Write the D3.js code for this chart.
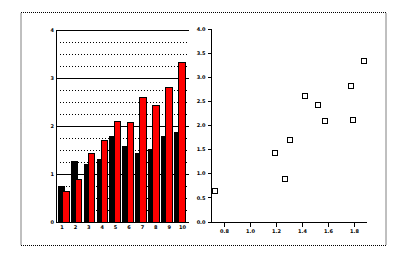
<!DOCTYPE html>
<html>
<head>
<meta charset="utf-8">
<script src="https://cdn.jsdelivr.net/npm/d3@7"></script>
<style>
  body { margin: 0; background: #fff; }
  svg text { font-family: "DejaVu Sans", sans-serif; font-weight: bold; font-size: 5px; fill: #000; }
</style>
</head>
<body>
<svg width="407" height="260"></svg>
<script>
// data
var categories = ["1", "2", "3", "4", "5", "6", "7", "8", "9", "10"];
var blackVals = [0.73, 1.27, 1.19, 1.31, 1.79, 1.58, 1.42, 1.52, 1.78, 1.875];
var redVals = [0.64, 0.89, 1.43, 1.70, 2.10, 2.08, 2.60, 2.42, 2.81, 3.33];
var barTicks = [0, 1, 2, 3, 4];
var scatterYTicks = [0, 0.5, 1, 1.5, 2, 2.5, 3, 3.5, 4];
var scatterXTicks = [0.8, 1.0, 1.2, 1.4, 1.6, 1.8];

var svg = d3.select("svg");

// dotted frame round everything
svg.append("rect")
  .attr("x", 21).attr("y", 12.5)
  .attr("width", 365).attr("height", 233)
  .attr("fill", "none").attr("stroke", "#000")
  .attr("stroke-dasharray", "1,1");

// ---- left: bar chart ----
var yBar = d3.scaleLinear().domain([0, 4]).range([222, 30]);
var xBar = d3.scaleBand().domain(categories).range([56.5, 185.5]);
var gridX0 = 56.5, gridX1 = 189;

var quarters = d3.range(0, 4.01, 0.25).filter(v => v % 1 != 0);
var left = svg.append("g").attr("shape-rendering", "crispEdges");

left.selectAll(".dot")
  .data(quarters)
  .enter().append("line")
  .attr("x1", gridX0 + 3).attr("x2", gridX1)
  .attr("y1", d => Math.round(yBar(d)) + 0.5).attr("y2", d => Math.round(yBar(d)) + 0.5)
  .attr("stroke", "#000").attr("stroke-dasharray", "1,2");

left.selectAll(".solid")
  .data(barTicks)
  .enter().append("line")
  .attr("x1", gridX0).attr("x2", gridX1)
  .attr("y1", d => Math.round(yBar(d)) + 0.5).attr("y2", d => Math.round(yBar(d)) + 0.5)
  .attr("stroke", "#000");

left.append("line")
  .attr("x1", gridX0).attr("x2", gridX0)
  .attr("y1", yBar(4)).attr("y2", yBar(0) + 1)
  .attr("stroke", "#000");

left.selectAll(".ylab")
  .data(barTicks)
  .enter().append("text")
  .attr("x", 54).attr("y", d => yBar(d) + 2)
  .attr("text-anchor", "end")
  .text(d => d);

left.selectAll(".bk")
  .data(blackVals)
  .enter().append("rect")
  .attr("x", (d, i) => xBar(categories[i]) + 1.8)
  .attr("y", d => yBar(d))
  .attr("width", 6.5)
  .attr("height", d => yBar(0) - yBar(d))
  .attr("fill", "#000").attr("stroke", "#000");

left.selectAll(".rd")
  .data(redVals)
  .enter().append("rect")
  .attr("x", (d, i) => xBar(categories[i]) + 6)
  .attr("y", d => yBar(d))
  .attr("width", 6.5)
  .attr("height", d => yBar(0) - yBar(d))
  .attr("fill", "#ff0000").attr("stroke", "#000");

left.selectAll(".xlab")
  .data(categories)
  .enter().append("text")
  .attr("x", (d, i) => 62 + i * 13.4)
  .attr("y", 228.5)
  .attr("text-anchor", "middle")
  .text(d => d);

// ---- right: scatter of black vs red ----
var xSc = d3.scaleLinear().domain([0.7, 1.9]).range([211, 367]);
var ySc = d3.scaleLinear().domain([0, 4]).range([221.5, 28.7]);

var right = svg.append("g").attr("shape-rendering", "crispEdges");

right.append("g")
  .attr("transform", "translate(211.5,0)")
  .call(d3.axisLeft(ySc).tickValues(scatterYTicks).tickSize(4).tickPadding(2).tickFormat(d3.format(".1f")))
  .call(g => g.select(".domain").attr("d", "M0," + ySc(4) + "V" + ySc(0)))
  .selectAll("text").style("font-size", "5px").style("font-family", "DejaVu Sans").style("font-weight", "bold");

right.append("g")
  .attr("transform", "translate(0," + (Math.round(ySc(0)) + 0.5) + ")")
  .call(d3.axisBottom(xSc).tickValues(scatterXTicks).tickSize(4).tickPadding(3).tickFormat(d3.format(".1f")))
  .call(g => g.select(".domain").attr("d", "M" + xSc(0.7) + ",0H" + xSc(1.9)))
  .selectAll("text").style("font-size", "5px").style("font-family", "DejaVu Sans").style("font-weight", "bold");

right.selectAll(".pt")
  .data(blackVals)
  .enter().append("rect")
  .attr("x", d => Math.round(xSc(d)) - 2.5)
  .attr("y", (d, i) => Math.round(ySc(redVals[i])) - 2.5)
  .attr("width", 5).attr("height", 5)
  .attr("fill", "#fff").attr("stroke", "#000");
</script>
</body>
</html>
